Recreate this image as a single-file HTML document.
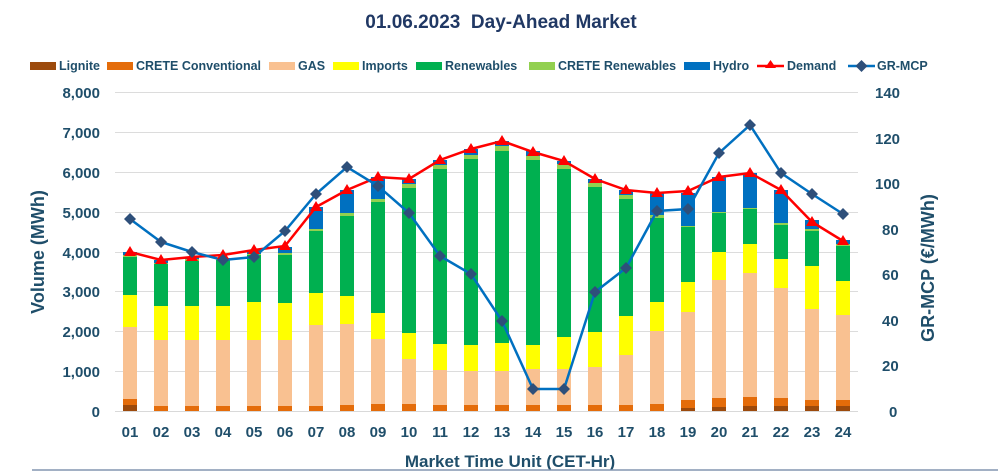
<!DOCTYPE html>
<html><head><meta charset="utf-8"><style>
body{margin:0;background:#fff}
svg{display:block}
text{font-family:"Liberation Sans",sans-serif;font-weight:bold}
</style></head><body>
<svg id="s" width="998" height="472" xmlns="http://www.w3.org/2000/svg">
<text x="501" y="28" font-size="19" fill="#203864" text-anchor="middle">01.06.2023&#160; Day-Ahead Market</text>
<g font-size="12.5" fill="#1f4e6a">
<rect x="30" y="62" width="26" height="8" fill="#9c4a0c"/><text x="59" y="70">Lignite</text>
<rect x="107" y="62" width="26" height="8" fill="#e46c0a"/><text x="136" y="70">CRETE Conventional</text>
<rect x="269" y="62" width="26" height="8" fill="#f9c191"/><text x="298" y="70">GAS</text>
<rect x="333" y="62" width="26" height="8" fill="#ffff00"/><text x="362" y="70">Imports</text>
<rect x="416" y="62" width="26" height="8" fill="#00b050"/><text x="445" y="70">Renewables</text>
<rect x="529" y="62" width="26" height="8" fill="#92d050"/><text x="558" y="70">CRETE Renewables</text>
<rect x="684" y="62" width="26" height="8" fill="#0070c0"/><text x="713" y="70">Hydro</text>
<line x1="757" y1="66" x2="784" y2="66" stroke="#ff0000" stroke-width="2.5"/><polygon points="770.5,60 776,68 765,68" fill="#ff0000"/><text x="787" y="70">Demand</text>
<line x1="848" y1="66" x2="875" y2="66" stroke="#0070c0" stroke-width="2.5"/><polygon points="861.5,60 867.5,66 861.5,72 855.5,66" fill="#2e4f7a"/><text x="877" y="70">GR-MCP</text>
</g>
<g stroke="#dcdcdc" stroke-width="1">
<line x1="115" y1="92.5" x2="858" y2="92.5"/><line x1="115" y1="132.5" x2="858" y2="132.5"/><line x1="115" y1="172.5" x2="858" y2="172.5"/><line x1="115" y1="212.5" x2="858" y2="212.5"/><line x1="115" y1="252.5" x2="858" y2="252.5"/><line x1="115" y1="291.5" x2="858" y2="291.5"/><line x1="115" y1="331.5" x2="858" y2="331.5"/><line x1="115" y1="371.5" x2="858" y2="371.5"/>
</g>
<g font-size="15" fill="#1f4e6a" text-anchor="end">
<text x="100" y="98">8,000</text><text x="100" y="138">7,000</text><text x="100" y="178">6,000</text><text x="100" y="218">5,000</text><text x="100" y="258">4,000</text><text x="100" y="297">3,000</text><text x="100" y="337">2,000</text><text x="100" y="377">1,000</text><text x="100" y="417">0</text>
</g>
<g font-size="15" fill="#1f4e6a" text-anchor="start">
<text x="875" y="98">140</text><text x="875" y="144">120</text><text x="875" y="189">100</text><text x="882" y="235">80</text><text x="882" y="280">60</text><text x="882" y="326">40</text><text x="882" y="371">20</text><text x="889" y="417">0</text>
</g>
<g id="bars"></g>
<line x1="115" y1="411.5" x2="858" y2="411.5" stroke="#d9d9d9"/>
<g id="lines"></g>
<g font-size="15" fill="#1f4e6a" text-anchor="middle">
<text x="130" y="437">01</text><text x="161" y="437">02</text><text x="192" y="437">03</text><text x="223" y="437">04</text><text x="254" y="437">05</text><text x="285" y="437">06</text><text x="316" y="437">07</text><text x="347" y="437">08</text><text x="378" y="437">09</text><text x="409" y="437">10</text><text x="440" y="437">11</text><text x="471" y="437">12</text><text x="502" y="437">13</text><text x="533" y="437">14</text><text x="564" y="437">15</text><text x="595" y="437">16</text><text x="626" y="437">17</text><text x="657" y="437">18</text><text x="688" y="437">19</text><text x="719" y="437">20</text><text x="750" y="437">21</text><text x="781" y="437">22</text><text x="812" y="437">23</text><text x="843" y="437">24</text>
</g>
<text x="510" y="467" font-size="17" fill="#1f4e6a" text-anchor="middle">Market Time Unit (CET-Hr)</text>
<text transform="translate(44,252) rotate(-90)" font-size="18" fill="#1f4e6a" text-anchor="middle">Volume (MWh)</text>
<text transform="translate(934,268) rotate(-90)" font-size="18" fill="#1f4e6a" text-anchor="middle">GR-MCP (€/MWh)</text>
<line x1="32" y1="470" x2="998" y2="470" stroke="#8496b0" stroke-width="1.5"/>
</svg>
<script>
var D=[[405,399,327,295,257,255,252,252,219],[411,406,340,306,264,263,260,260,242],[411,406,340,306,261,259,257,257,252],[411,406,340,306,260,259,258,255,260],[411,406,340,302,255,254,250,250,257],[411,406,340,303,255,253,247,246,231],[411,406,325,293,231,229,207,207,194],[411,405,324,296,216,213,190,190,167],[411,404,339,313,202,199,177,177,186],[411,404,359,333,188,184,179,179,213],[411,405,370,344,169,165,160,160,256],[411,405,371,345,159,155,149,149,274],[411,405,371,343,151,146,141,141,321],[411,405,369,345,160,156,151,152,389],[411,405,369,337,169,164,161,161,389],[411,405,367,332,187,183,179,179,292],[411,405,355,316,199,195,190,190,268],[411,404,331,302,218,215,193,193,211],[408,400,312,282,227,226,193,191,209],[407,398,280,252,213,212,177,177,153],[406,397,273,244,209,208,173,173,125],[406,398,288,259,225,223,190,190,173],[406,400,309,266,231,229,220,222,194],[406,400,315,281,246,244,240,241,214]];
var C=["#9c4a0c","#e46c0a","#f9c191","#ffff00","#00b050","#92d050","#0070c0"];
var b="",dp="",mp="",mk="";
D.forEach(function(d,i){var x=130+31*i,prev=411;
for(var k=0;k<7;k++){var t=d[k];if(prev-t>0)b+='<rect x="'+(x-7)+'" y="'+t+'" width="14" height="'+(prev-t)+'" fill="'+C[k]+'"/>';prev=t;}
dp+=x+','+d[7]+' ';mp+=x+','+d[8]+' ';
mk+='<polygon points="'+x+','+(d[7]-6)+' '+(x+6)+','+(d[7]+4)+' '+(x-6)+','+(d[7]+4)+'" fill="#ff0000"/>';
mk+='<polygon points="'+x+','+(d[8]-6)+' '+(x+6)+','+d[8]+' '+x+','+(d[8]+6)+' '+(x-6)+','+d[8]+'" fill="#2e4f7a"/>';});
document.getElementById("bars").innerHTML=b;
document.getElementById("lines").innerHTML='<polyline points="'+dp+'" fill="none" stroke="#ff0000" stroke-width="2.5"/><polyline points="'+mp+'" fill="none" stroke="#0070c0" stroke-width="2.5"/>'+mk;
</script>
</body></html>
